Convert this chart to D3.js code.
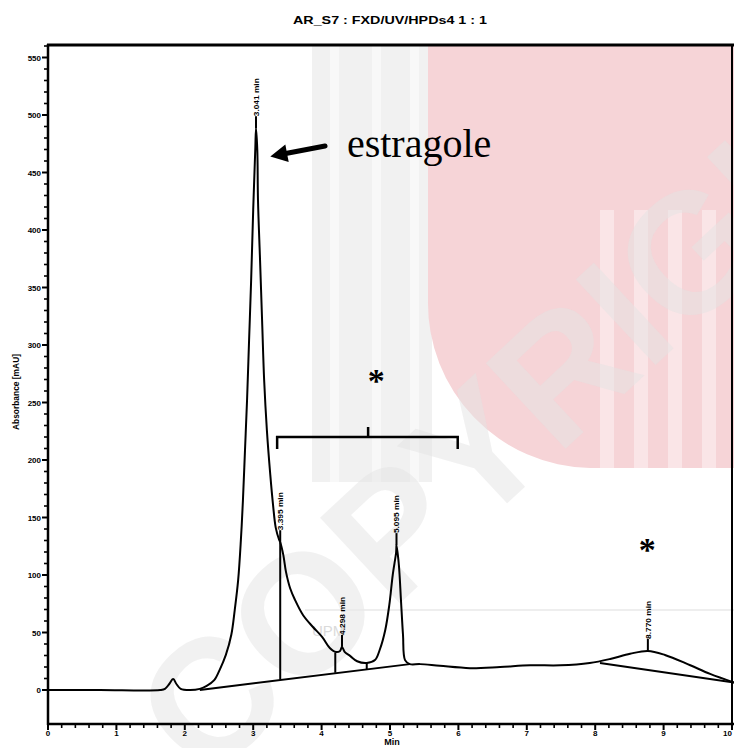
<!DOCTYPE html>
<html>
<head>
<meta charset="utf-8">
<script src="https://cdn.jsdelivr.net/npm/d3@7"></script>
<style>
  html, body { margin: 0; padding: 0; background: #fff; }
  svg { display: block; }
</style>
</head>
<body>
<script>
// Chromatogram trace: retention time (min) and detector signal (mAU)
const retentionTime = [
  0, 0.76, 1.64, 1.71, 1.77, 1.83, 1.88, 1.94, 2.08, 2.22, 2.32, 2.43, 2.51, 2.60,
  2.68, 2.73, 2.78, 2.82, 2.85, 2.88, 2.91, 2.94, 2.97, 3.00, 3.03, 3.041, 3.06,
  3.07, 3.10, 3.13, 3.16, 3.20, 3.25, 3.29, 3.33, 3.38, 3.395, 3.44, 3.48, 3.54,
  3.61, 3.73, 3.87, 4.01, 4.12, 4.21, 4.27, 4.298, 4.34, 4.42, 4.52, 4.66, 4.78,
  4.85, 4.93, 4.99, 5.04, 5.09, 5.095, 5.13, 5.16, 5.19, 5.22, 5.29, 5.44, 5.73,
  6.17, 6.61, 7.05, 7.49, 7.92, 8.22, 8.51, 8.77, 9.02, 9.39, 9.68, 10.03
];
const signal = [
  0, 0, 0, 1, 5, 9.5, 5, 1, 0, 1, 3.5, 8.5, 17.5, 30.5,
  48, 69.5, 95.5, 130.5, 165, 208.5, 252, 304.5, 356.5, 417.5, 469.5, 488.5, 469.5,
  426, 374, 321.5, 269.5, 226, 187, 161, 141, 130.5, 128.5, 117.5, 102.5, 88.5,
  78.5, 65, 55, 46, 36.5, 33, 34, 37.5, 33, 29.5, 25, 23.5, 26,
  35, 52, 74, 100, 120, 126, 108.5, 78.5, 48, 26, 22.5, 22.5, 21,
  19, 20, 21.5, 21.5, 23.5, 27, 31.5, 34, 30.5, 21.5, 14, 6.5
];

// Integrated peaks (apex retention time and height)
const peakTimes = [3.041, 3.395, 4.298, 5.095, 8.770];
const peakHeights = [488.5, 128.5, 37.5, 126, 34];

// Integration baselines: [t0, v0, t1, v1]
const baselineSegments = [
  [2.22, 0, 5.29, 22.5],
  [8.07, 23.5, 10.03, 6.5]
];
// Peak-split drop lines: [t, top, bottom]
const dropLines = [
  [3.395, 128.5, 9],
  [4.20, 32.5, 15],
  [4.66, 23.5, 17.5]
];

const xTickValues = [0, 1, 2, 3, 4, 5, 6, 7, 8, 9, 10];
const yTickValues = [0, 50, 100, 150, 200, 250, 300, 350, 400, 450, 500, 550];
const xTickLabels = ["0", "1", "2", "3", "4", "5", "6", "7", "8", "9", "10"];
const yTickLabels = ["0", "50", "100", "150", "200", "250", "300", "350", "400", "450", "500", "550"];

const W = 734, H = 748;
const svg = d3.select("body").append("svg").attr("width", W).attr("height", H);

const x = d3.scaleLinear().domain([0, 10]).range([48, 732]);
const y = d3.scaleLinear().domain([0, 550]).range([690, 57.5]);

// ---- background watermark ----
const wm = svg.append("g").attr("class", "watermark");
wm.append("rect").attr("x", 312).attr("y", 46).attr("width", 120).attr("height", 436).attr("fill", "#f1f1f1");
[330, 372, 410].forEach(sx =>
  wm.append("rect").attr("x", sx).attr("y", 46).attr("width", 9).attr("height", 436).attr("fill", "#f8f8f8"));
wm.append("path")
  .attr("d", "M428,46 H734 V468 H590 A165,165 0 0 1 428,300 Z")
  .attr("fill", "#f6d4d7");
[600, 634, 668, 702].forEach(sx =>
  wm.append("rect").attr("x", sx).attr("y", 210).attr("width", 14).attr("height", 258).attr("fill", "#fae5e7"));
wm.append("text")
  .attr("transform", "translate(205,785) rotate(-43)")
  .attr("font-family", "Liberation Sans, Arial, sans-serif")
  .attr("font-weight", "bold")
  .attr("font-size", 170)
  .attr("fill", "#e4e4e4")
  .attr("fill-opacity", 0.5)
  .text("COPYRIGHT");
wm.append("line").attr("x1", 305).attr("x2", 734).attr("y1", 610).attr("y2", 610)
  .attr("stroke", "#e8e8e8").attr("stroke-width", 1.5);
wm.append("text").attr("x", 312).attr("y", 636)
  .attr("font-family", "Liberation Sans, Arial, sans-serif").attr("font-size", 15)
  .attr("fill", "#dadada").text("UPM");

// ---- title ----
svg.append("text")
  .attr("x", 293).attr("y", 24)
  .attr("font-family", "Liberation Sans Narrow, Arial Narrow, Liberation Sans, sans-serif")
  .attr("font-weight", "bold").attr("font-size", 10)
  .attr("textLength", 194).attr("lengthAdjust", "spacingAndGlyphs")
  .text("AR_S7 : FXD/UV/HPDs4 1 : 1");

// ---- frame ----
const frame = svg.append("g").attr("stroke", "#000").attr("fill", "none");
frame.append("line").attr("x1", 47).attr("x2", 734).attr("y1", 45).attr("y2", 45).attr("stroke-width", 3);
frame.append("line").attr("x1", 48).attr("x2", 48).attr("y1", 44).attr("y2", 725).attr("stroke-width", 2.5);
frame.append("line").attr("x1", 47).attr("x2", 734).attr("y1", 724).attr("y2", 724).attr("stroke-width", 2.5);
frame.append("line").attr("x1", 732).attr("x2", 732).attr("y1", 45).attr("y2", 725).attr("stroke-width", 2);

// ---- y axis ticks ----
const yMinor = d3.range(0, 561, 10).filter(v => v % 50 !== 0);
svg.append("g").selectAll("line").data(yMinor).join("line")
  .attr("x1", 44).attr("x2", 48).attr("y1", d => y(d)).attr("y2", d => y(d))
  .attr("stroke", "#000").attr("stroke-width", 1.6);
svg.append("g").selectAll("line").data(yTickValues).join("line")
  .attr("x1", 42).attr("x2", 48).attr("y1", d => y(d)).attr("y2", d => y(d))
  .attr("stroke", "#000").attr("stroke-width", 2);
svg.append("g").selectAll("text").data(yTickValues).join("text")
  .attr("x", 41).attr("y", d => y(d) + 3)
  .attr("text-anchor", "end")
  .attr("font-family", "Liberation Sans Narrow, Arial Narrow, Liberation Sans, sans-serif")
  .attr("font-weight", "bold").attr("font-size", 8)
  .text((d, i) => yTickLabels[i]);

// ---- x axis ticks ----
const xMinor = d3.range(0, 10.01, 0.2).filter(v => Math.abs(v - Math.round(v)) > 0.01);
svg.append("g").selectAll("line").data(xMinor).join("line")
  .attr("x1", d => x(d)).attr("x2", d => x(d)).attr("y1", 724).attr("y2", 728)
  .attr("stroke", "#000").attr("stroke-width", 1.6);
svg.append("g").selectAll("line").data(xTickValues).join("line")
  .attr("x1", d => x(d)).attr("x2", d => x(d)).attr("y1", 724).attr("y2", 730)
  .attr("stroke", "#000").attr("stroke-width", 2);
svg.append("g").selectAll("text").data(xTickValues).join("text")
  .attr("x", d => x(d)).attr("y", 736)
  .attr("text-anchor", (d, i) => i === xTickValues.length - 1 ? "end" : "middle")
  .attr("font-family", "Liberation Sans Narrow, Arial Narrow, Liberation Sans, sans-serif")
  .attr("font-weight", "bold").attr("font-size", 8)
  .text((d, i) => xTickLabels[i]);

// axis titles
svg.append("text")
  .attr("x", 392).attr("y", 745).attr("text-anchor", "middle")
  .attr("font-family", "Liberation Sans, Arial, sans-serif")
  .attr("font-weight", "bold").attr("font-size", 9)
  .text("Min");
svg.append("text")
  .attr("transform", "translate(19,392) rotate(-90)")
  .attr("text-anchor", "middle")
  .attr("font-family", "Liberation Sans Narrow, Arial Narrow, Liberation Sans, sans-serif")
  .attr("font-weight", "bold").attr("font-size", 9)
  .attr("textLength", 76).attr("lengthAdjust", "spacingAndGlyphs")
  .text("Absorbance [mAU]");

// ---- chromatogram ----
const trace = retentionTime.map((t, i) => [t, signal[i]]);
svg.append("path")
  .datum(trace)
  .attr("fill", "none").attr("stroke", "#000").attr("stroke-width", 2)
  .attr("stroke-linejoin", "round")
  .attr("d", d3.line().x(d => x(d[0])).y(d => y(d[1])).curve(d3.curveCatmullRom.alpha(0.5)));

// baselines
svg.append("g").selectAll("line").data(baselineSegments).join("line")
  .attr("x1", d => x(d[0])).attr("y1", d => y(d[1]))
  .attr("x2", d => x(d[2])).attr("y2", d => y(d[3]))
  .attr("stroke", "#000").attr("stroke-width", 2);

// drop lines
svg.append("g").selectAll("line").data(dropLines).join("line")
  .attr("x1", d => x(d[0])).attr("x2", d => x(d[0]))
  .attr("y1", d => y(d[1])).attr("y2", d => y(d[2]))
  .attr("stroke", "#000").attr("stroke-width", 2);

// peak retention-time labels
const peaks = peakTimes.map((t, i) => ({ t, h: peakHeights[i] }));
const pk = svg.append("g");
pk.selectAll("line").data(peaks).join("line")
  .attr("x1", d => x(d.t)).attr("x2", d => x(d.t))
  .attr("y1", d => y(d.h)).attr("y2", d => y(d.h) - 12)
  .attr("stroke", "#000").attr("stroke-width", 2);
pk.selectAll("text").data(peaks).join("text")
  .attr("transform", d => `translate(${x(d.t) + 3},${y(d.h) - 12}) rotate(-90)`)
  .attr("font-family", "Liberation Sans Narrow, Arial Narrow, Liberation Sans, sans-serif")
  .attr("font-weight", "bold").attr("font-size", 8)
  .attr("textLength", 38).attr("lengthAdjust", "spacingAndGlyphs")
  .text(d => d.t.toFixed(3) + " min");

// ---- annotations ----
const serif = "Liberation Serif, Times New Roman, serif";
svg.append("text")
  .attr("x", x(4.37)).attr("y", y(463.5))
  .attr("font-family", serif).attr("font-size", 40)
  .text("estragole");

// arrow pointing at the main peak
const tip = [x(3.25), y(464)], tail = [x(4.05), y(473)];
const ang = Math.atan2(tail[1] - tip[1], tail[0] - tip[0]);
const hl = 17, hw = 9;
const bx = tip[0] + hl * Math.cos(ang), by = tip[1] + hl * Math.sin(ang);
svg.append("line")
  .attr("x1", tail[0]).attr("y1", tail[1]).attr("x2", bx).attr("y2", by)
  .attr("stroke", "#000").attr("stroke-width", 5).attr("stroke-linecap", "round");
svg.append("path")
  .attr("d", `M${tip[0]},${tip[1]} L${bx - hw * Math.sin(ang)},${by + hw * Math.cos(ang)} L${bx + hw * Math.sin(ang)},${by - hw * Math.cos(ang)} Z`)
  .attr("fill", "#000");

// bracket over the minor peaks
const bL = x(3.35), bR = x(5.99), bC = x(4.68), bY = 437;
svg.append("path")
  .attr("d", `M${bL},${bY + 12} V${bY} H${bR} V${bY + 12} M${bC},${bY} V${bY - 10}`)
  .attr("fill", "none").attr("stroke", "#000").attr("stroke-width", 2.5);

// asterisks
const stars = [[x(4.80), 378], [x(8.76), 547]];
svg.append("g").selectAll("text").data(stars).join("text")
  .attr("x", d => d[0]).attr("y", d => d[1] + 14)
  .attr("text-anchor", "middle")
  .attr("font-family", serif).attr("font-weight", "bold").attr("font-size", 34)
  .text("*");
</script>
</body>
</html>
